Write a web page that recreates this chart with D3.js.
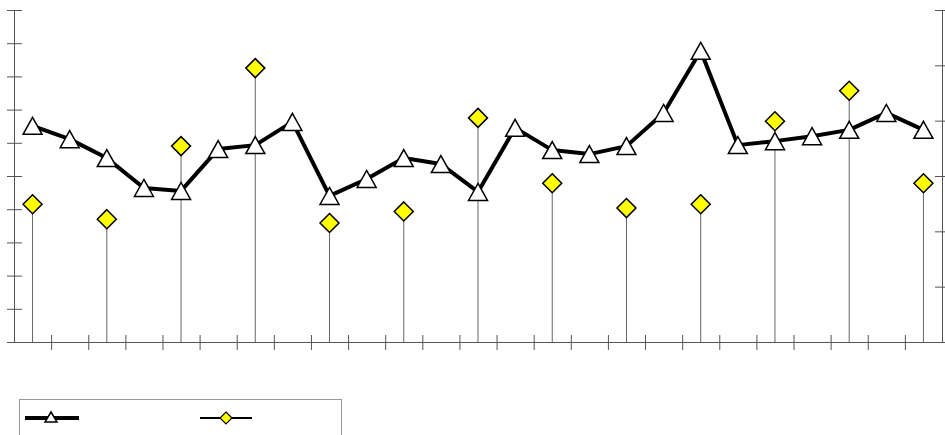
<!DOCTYPE html>
<html>
<head>
<meta charset="utf-8">
<script src="https://cdn.jsdelivr.net/npm/d3@7"></script>
<style>
  html, body { margin: 0; padding: 0; background: #fff; }
  svg { display: block; font-family: "Liberation Sans", Arial, sans-serif; }
</style>
</head>
<body>
<svg id="chart" width="945" height="435"></svg>
<script>
// Categories (25 periods) and the two series
const categories = d3.range(1, 26).map(String);
const lineValues = [6.51, 6.11, 5.54, 4.64, 4.55, 5.81, 5.93, 6.63, 4.40, 4.91,
                    5.54, 5.36, 4.52, 6.45, 5.78, 5.66, 5.90, 6.90, 8.77, 5.93,
                    6.05, 6.20, 6.39, 6.90, 6.39];
const stemValues = [2.49, null, 2.22, null, 3.54, null, 4.95, null, 2.15, null,
                    2.36, null, 4.05, null, 2.87, null, 2.42, null, 2.49, null,
                    3.99, null, 4.54, null, 2.87];
const leftTicks = d3.range(0, 11);
const rightTicks = d3.range(0, 7);

const svg = d3.select("#chart");
const plot = { left: 14, right: 942, top: 10, bottom: 342 };

const x = d3.scaleBand().domain(categories).range([plot.left, plot.right]).padding(0);
const xEdge = d3.scaleLinear().domain([0, categories.length]).range([plot.left, plot.right]);
const yL = d3.scaleLinear().domain([0, 10]).range([plot.bottom, plot.top]);
const yR = d3.scaleLinear().domain([0, 6]).range([plot.bottom, plot.top]);
const cx = c => x(c) + x.bandwidth() / 2;

// Triangle whose bounding box is centred on the data point
const triangle = (w, h) => ({
  draw(ctx) {
    ctx.moveTo(0, -h / 2);
    ctx.lineTo(w / 2, h / 2);
    ctx.lineTo(-w / 2, h / 2);
    ctx.closePath();
  }
});
const diamond = r => ({
  draw(ctx) {
    ctx.moveTo(0, -r);
    ctx.lineTo(r, 0);
    ctx.lineTo(0, r);
    ctx.lineTo(-r, 0);
    ctx.closePath();
  }
});

const axisColor = "#555";

// Axes with ticks crossing the axis line
function styleAxis(g, inner, outer, vertical) {
  g.select(".domain").attr("stroke", axisColor).attr("stroke-width", 1);
  g.selectAll(".tick line").attr("stroke", axisColor).attr("stroke-width", 1)
    .each(function () {
      const l = d3.select(this);
      if (vertical) l.attr("x1", inner).attr("x2", outer);
      else l.attr("y1", inner).attr("y2", outer);
    });
  g.selectAll(".tick text").remove();
}

svg.append("g").attr("transform", `translate(${plot.left},0)`)
  .call(d3.axisLeft(yL).tickValues(leftTicks).tickSizeOuter(0).tickFormat(""))
  .call(g => styleAxis(g, 8, -7, true));

svg.append("g").attr("transform", `translate(${plot.right},0)`)
  .call(d3.axisRight(yR).tickValues(rightTicks).tickSizeOuter(0).tickFormat(""))
  .call(g => styleAxis(g, -7, 8, true));

svg.append("g").attr("transform", `translate(0,${plot.bottom})`)
  .call(d3.axisBottom(xEdge).tickValues(d3.range(1, categories.length)).tickSizeOuter(0).tickFormat(""))
  .call(g => styleAxis(g, -7, 8, false));

// Stems from each diamond down to the baseline
const stemData = categories.map((c, i) => ({ c, v: stemValues[i] })).filter(d => d.v != null);
svg.append("g").selectAll("line").data(stemData).join("line")
  .attr("x1", d => cx(d.c)).attr("x2", d => cx(d.c))
  .attr("y1", d => yR(d.v)).attr("y2", plot.bottom)
  .attr("stroke", "#666").attr("stroke-width", 1);

// Thick line series
const lineData = categories.map((c, i) => ({ c, v: lineValues[i] }));
svg.append("path").datum(lineData)
  .attr("fill", "none").attr("stroke", "#000").attr("stroke-width", 4)
  .attr("stroke-linejoin", "round")
  .attr("d", d3.line().x(d => cx(d.c)).y(d => yL(d.v)));

svg.append("g").selectAll("path").data(lineData).join("path")
  .attr("transform", d => `translate(${cx(d.c)},${yL(d.v)})`)
  .attr("d", d3.symbol().type(triangle(19, 17))())
  .attr("fill", "#fff").attr("stroke", "#000").attr("stroke-width", 1.5);

// Diamond markers
svg.append("g").selectAll("path").data(stemData).join("path")
  .attr("transform", d => `translate(${cx(d.c)},${yR(d.v)})`)
  .attr("d", d3.symbol().type(diamond(9.5))())
  .attr("fill", "#ffff00").attr("stroke", "#000").attr("stroke-width", 1.5);

// Legend
const legend = svg.append("g");
legend.append("rect").attr("x", 19.5).attr("y", 399.5).attr("width", 322).attr("height", 60)
  .attr("fill", "#fff").attr("stroke", "#999").attr("stroke-width", 1);

legend.append("line").attr("x1", 25).attr("x2", 79).attr("y1", 418).attr("y2", 418)
  .attr("stroke", "#000").attr("stroke-width", 4);
legend.append("path").attr("transform", "translate(51,417)")
  .attr("d", d3.symbol().type(triangle(12, 10))())
  .attr("fill", "#fff").attr("stroke", "#000").attr("stroke-width", 1.5);

legend.append("line").attr("x1", 200).attr("x2", 252).attr("y1", 418).attr("y2", 418)
  .attr("stroke", "#000").attr("stroke-width", 2);
legend.append("path").attr("transform", "translate(226,418)")
  .attr("d", d3.symbol().type(diamond(6))())
  .attr("fill", "#ffff00").attr("stroke", "#000").attr("stroke-width", 1.2);
</script>
</body>
</html>
